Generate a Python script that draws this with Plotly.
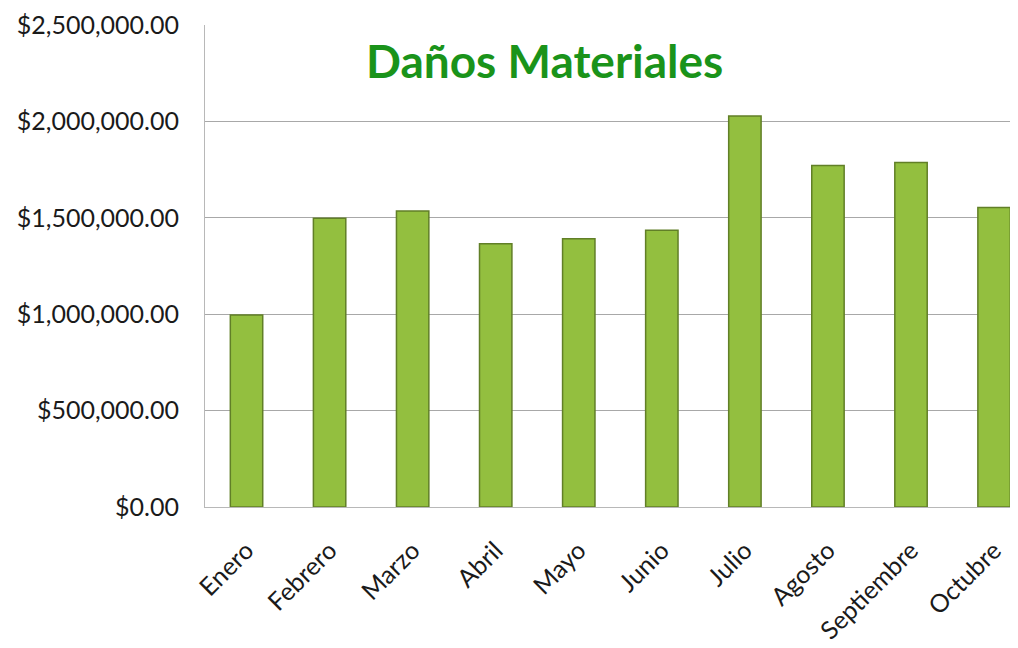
import plotly.graph_objects as go

meses = ["Enero", "Febrero", "Marzo", "Abril", "Mayo", "Junio",
         "Julio", "Agosto", "Septiembre", "Octubre"]
danos = [996000, 1498000, 1535000, 1365000, 1391000, 1436000,
         2028000, 1771000, 1787000, 1553000]
y_ticks = [0, 500000, 1000000, 1500000, 2000000, 2500000]
y_labels = [f"${v:,.2f}" for v in y_ticks]

FONT = "Lato"

fig = go.Figure()
fig.add_trace(go.Bar(
    x=list(range(len(meses))), y=danos, width=0.39,
    marker=dict(color="#93bf3f", line=dict(color="#617f27", width=1.5)),
    hoverinfo="y",
))

fig.update_layout(
    width=1018, height=648,
    margin=dict(l=197, r=8, t=17, b=149),
    paper_bgcolor="white", plot_bgcolor="white",
    showlegend=False,
    annotations=[dict(
        text="<b>Daños Materiales</b>", xref="paper", yref="paper",
        x=0.417, y=0.927, xanchor="center", yanchor="middle", showarrow=False,
        font=dict(family=FONT, size=46, color="#1a931a"),
    )],
)
fig.update_xaxes(
    range=[-0.5, -0.5 + 813 / 83.06], automargin=False,
    tickmode="array", tickvals=list(range(len(meses))), ticktext=meses,
    tickangle=-45, ticklabelstandoff=18,
    showgrid=False, showline=True, linecolor="#b8b8b8", linewidth=1,
    ticks="", tickfont=dict(family=FONT, size=25, color="#1a1a1a"),
)
fig.update_yaxes(
    range=[0, 2500000], automargin=False,
    tickmode="array", tickvals=y_ticks, ticktext=y_labels,
    showgrid=True, gridcolor="#a8a8a8", gridwidth=1,
    showline=True, linecolor="#b8b8b8", linewidth=1, mirror=False,
    zeroline=False, ticks="", ticklabelstandoff=20,
    tickfont=dict(family=FONT, size=25, color="#1a1a1a"),
)

fig.write_html("out.html")
